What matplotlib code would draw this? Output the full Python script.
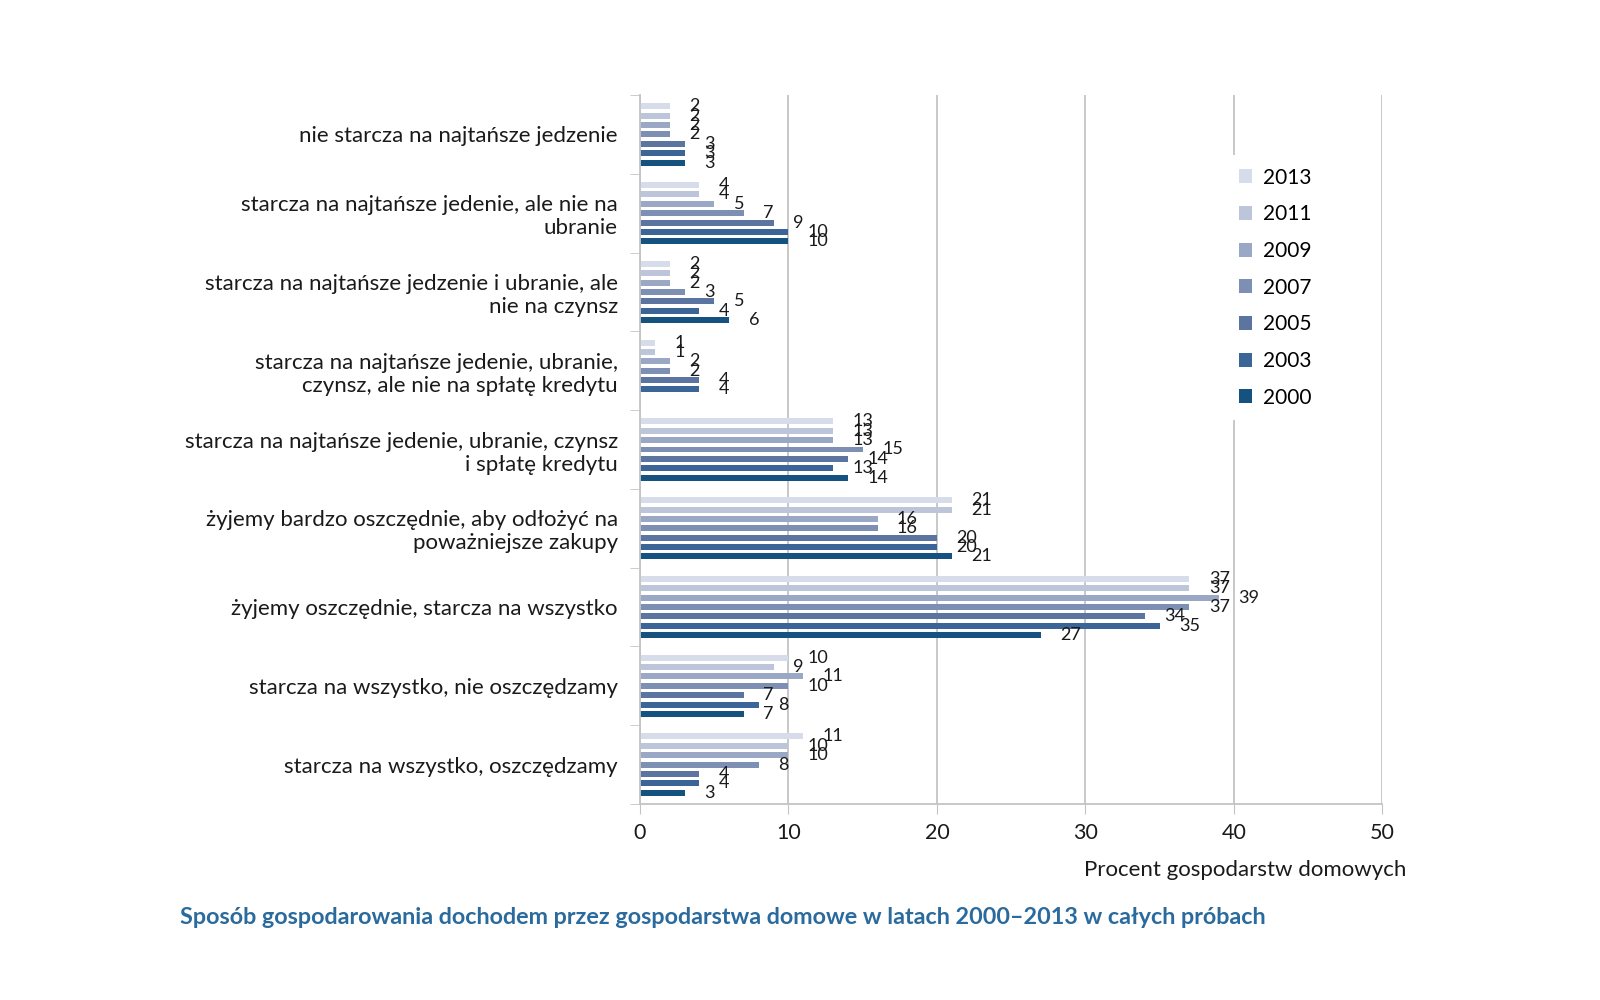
import matplotlib
matplotlib.use("Agg")
import matplotlib.pyplot as plt
from matplotlib.patches import Patch
import numpy as np

plt.rcParams['font.family'] = ['Lato', 'DejaVu Sans']

categories = [
    "nie starcza na najtańsze jedzenie",
    "starcza na najtańsze jedenie, ale nie na\nubranie",
    "starcza na najtańsze jedzenie i ubranie, ale\nnie na czynsz",
    "starcza na najtańsze jedenie, ubranie,\nczynsz, ale nie na spłatę kredytu",
    "starcza na najtańsze jedenie, ubranie, czynsz\ni spłatę kredytu",
    "żyjemy bardzo oszczędnie, aby odłożyć na\npoważniejsze zakupy",
    "żyjemy oszczędnie, starcza na wszystko",
    "starcza na wszystko, nie oszczędzamy",
    "starcza na wszystko, oszczędzamy",
]
years = ["2013", "2011", "2009", "2007", "2005", "2003", "2000"]
v2013 = [2, 4, 2, 1, 13, 21, 37, 10, 11]
v2011 = [2, 4, 2, 1, 13, 21, 37, 9, 10]
v2009 = [2, 5, 2, 2, 13, 16, 39, 11, 10]
v2007 = [2, 7, 3, 2, 15, 16, 37, 10, 8]
v2005 = [3, 9, 5, 4, 14, 20, 34, 7, 4]
v2003 = [3, 10, 4, 4, 13, 20, 35, 8, 4]
v2000 = [3, 10, 6, None, 14, 21, 27, 7, 3]
series = [v2013, v2011, v2009, v2007, v2005, v2003, v2000]
colors = ["#d6dce9", "#bcc5d9", "#9ba8c5", "#7d8fb3", "#5b74a0", "#3a6596", "#15527f"]

xticks = [0, 10, 20, 30, 40, 50]

fig = plt.figure(figsize=(16, 10), dpi=100)
ax = fig.add_axes([0.40, 0.196, 0.464, 0.709])

n = len(categories)
step = 0.119
bh = 0.076
ypos = np.arange(n)
for j, (vals, col) in enumerate(zip(series, colors)):
    yy = ypos + (j - 3) * step
    for yv, v in zip(yy, vals):
        if v is None:
            continue
        ax.barh(yv, v, height=bh, color=col, zorder=2)
        ax.annotate(str(v), xy=(v, yv), xytext=(14, 0), textcoords="offset points",
                    ha="left", va="center", fontsize=13, color="#1a1a1a", zorder=4)

ax.set_xlim(0, 50)
ax.set_ylim(n - 0.5, -0.5)
ax.set_xticks(xticks)
ax.set_xticklabels([str(t) for t in xticks], fontsize=15.5)
ax.xaxis.grid(True, color="#c4c4c4", linewidth=1.3, zorder=0)
ax.set_axisbelow(True)
ax.tick_params(axis="x", length=7, color="#c4c4c4", pad=7, labelcolor="#1a1a1a")

ax.set_yticks(ypos)
ax.set_yticklabels(categories, fontsize=16, color="#1a1a1a")
ax.tick_params(axis="y", which="major", length=0, pad=16)
ax.set_yticks(np.arange(-0.5, n + 0.5, 1), minor=True)
ax.tick_params(axis="y", which="minor", length=7, color="#c4c4c4")

for s in ["top", "right"]:
    ax.spines[s].set_visible(False)
for s in ["left", "bottom"]:
    ax.spines[s].set_color("#c4c4c4")
    ax.spines[s].set_linewidth(1.3)

handles = [Patch(facecolor=c, edgecolor="none") for c in colors]
leg = ax.legend(handles, years, loc="upper right", bbox_to_anchor=(0.935, 0.93),
                frameon=True, fontsize=15, handlelength=0.65, handleheight=0.65,
                labelspacing=0.8, handletextpad=0.5, borderpad=0.6)
leg.get_frame().set_facecolor("white")
leg.get_frame().set_edgecolor("none")
leg.get_frame().set_alpha(1)
leg.set_zorder(5)

fig.text(1406 / 1600, 1 - 870 / 1000, "Procent gospodarstw domowych", ha="right", va="center",
         fontsize=16, color="#1a1a1a")
fig.text(180 / 1600, 1 - 917 / 1000,
         "Sposób gospodarowania dochodem przez gospodarstwa domowe w latach 2000–2013 w całych próbach",
         ha="left", va="center", fontsize=16.8, fontweight="bold", color="#2a6a9c")

fig.savefig("out.png", dpi=100, facecolor="white")
